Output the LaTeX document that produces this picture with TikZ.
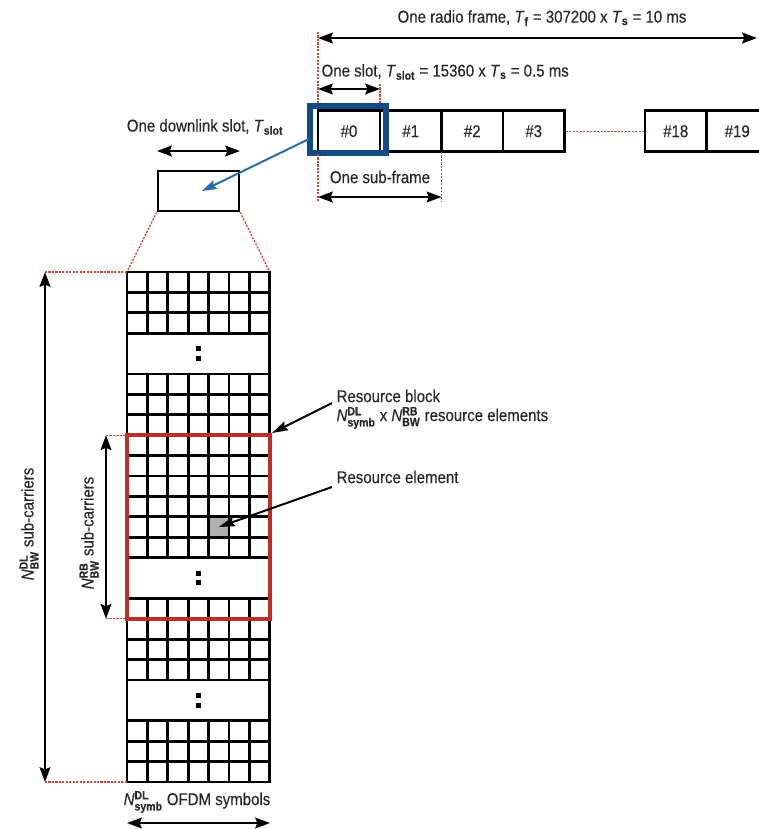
\documentclass[tikz,border=0pt]{standalone}
\usepackage{amsmath}
\usepackage{fontspec}
\setmainfont[FakeStretch=0.88,FakeBold=0.35]{Liberation Sans}
\usetikzlibrary{arrows.meta,fit,calc}
\definecolor{txt}{RGB}{40,40,40}
\definecolor{rbred}{RGB}{190,45,40}
\definecolor{dotred}{RGB}{205,70,60}
\definecolor{bluebox}{RGB}{20,75,135}
\definecolor{bluearr}{RGB}{40,110,170}
\definecolor{recell}{RGB}{175,175,175}
\newcommand{\Tt}[1]{\textit{T}\textsubscript{\textbf{#1}}}
\newcommand{\Nss}[2]{\textit{N}$^{\textbf{#1}}_{\textbf{#2}}$}
\begin{document}
\begin{tikzpicture}[x=0.75pt,y=-0.75pt,
  every node/.style={font=\fontsize{12.8}{14}\selectfont, text=txt, inner sep=1pt},
  dim/.style={line width=1.8pt, {Stealth[length=11pt,width=8pt,inset=1.5pt]}-{Stealth[length=11pt,width=8pt,inset=1.5pt]}},
  ptr/.style={line width=1.5pt, -{Stealth[length=12pt,width=7pt,inset=1.5pt]}},
  guide/.style={dotred, line width=1pt, dash pattern=on 1.6pt off 1pt},
  slotbox/.style={draw, line width=1.9pt, minimum width=46.3pt, minimum height=30.75pt, inner sep=0pt},
  gl/.style={line width=2pt},
]
\useasboundingbox (0,0) rectangle (758,829);
\def\gx{127}\def\cw{20.4}\def\gy{272}\def\rh{20.4}

% ---------- top radio frame ----------
\node[slotbox] (s0) at (349,131.2) {\#0};
\node[slotbox] (s1) at (410.75,131.2) {\#1};
\node[slotbox] (s2) at (472.25,131.2) {\#2};
\node[slotbox] (s3) at (533.75,131.2) {\#3};
\node[slotbox] (s18) at (675.75,131.2) {\#18};
\node[slotbox] (s19) at (737.25,131.2) {\#19};
\draw[guide] (s3.east) -- (s18.west);
\node[draw=bluebox, line width=4.5pt, minimum width=57pt, minimum height=35.25pt, inner sep=0pt] (blue) at (348,129.5) {};

\coordinate (fL) at (318,38);
\coordinate (fR) at (757,38);
\coordinate (fLt) at (318,32);
\coordinate (fLb) at (318,104);
\draw[guide] (fLt) -- (fLb);
\draw[dim, line width=2.2pt] (fL) -- (fR);
\node (flbl) at (542,18) {One radio frame, \Tt{f} = 307200 x \Tt{s} = 10 ms};

\coordinate (sL) at (318,89);
\coordinate (sR) at (380,89);
\coordinate (sRt) at (380,84);
\coordinate (sRb) at (380,104);
\draw[guide] (sRt) -- (sRb);
\draw[dim] (sL) -- (sR);
\node[anchor=west] (slbl) at (320,72) {One slot, \Tt{slot} = 15360 x \Tt{s} = 0.5 ms};

\coordinate (sfL) at (318,197);
\coordinate (sfR) at (441.5,197);
\coordinate (sfLt) at (318,154);
\coordinate (sfRt) at (441.5,152);
\coordinate (sfLb) at (318,202);
\coordinate (sfRb) at (441.5,202);
\draw[guide] (sfLt) -- (sfLb);
\draw[guide] (sfRt) -- (sfRb);
\draw[dim] (sfL) -- (sfR);
\node (sflbl) at (380,177) {One sub-frame};

% ---------- downlink slot ----------
\node[draw, line width=1.9pt, minimum width=60.75pt, minimum height=30pt, inner sep=0pt] (dl) at (198.5,191) {};
\node (dllbl) at (205,127) {One downlink slot, \Tt{slot}};
\coordinate (dlaL) at (157,151);
\coordinate (dlaR) at (240,151);
\draw[dim] (dlaL) -- (dlaR);
\coordinate (bs) at (309,139);
\coordinate (bt) at (202,191);
\draw[bluearr, line width=1.5pt, -{Stealth[length=11pt,width=7pt,inset=1.5pt]}] (bs) -- (bt);

% ---------- grid ----------
\coordinate (gtl) at (\gx,\gy);
\coordinate (gtr) at (\gx+7*\cw,\gy);
\coordinate (gbl) at (\gx,\gy+25*\rh);
\coordinate (gbr) at (\gx+7*\cw,\gy+25*\rh);
\draw[guide] (dl.south west) -- (gtl);
\draw[guide] (dl.south east) -- (gtr);

\node[fill=recell, minimum size=15.3pt, inner sep=0pt] (re) at (\gx+4.5*\cw,\gy+12.5*\rh) {};
\foreach \a/\b in {0/3,5/14,16/20,22/25} {
  \foreach \c in {1,...,6}
    \draw[gl] (\gx+\c*\cw,\gy+\a*\rh) -- (\gx+\c*\cw,\gy+\b*\rh);
  \foreach \r in {\a,...,\b}
    \draw[gl] (\gx,\gy+\r*\rh) -- (\gx+7*\cw,\gy+\r*\rh);
}
\draw[gl] (gtl) rectangle (gbr);
\foreach \g in {4,15,21} {
  \fill (\gx+3.5*\cw-2.4,\gy+\g*\rh-7.2) rectangle +(4.8,4.8);
  \fill (\gx+3.5*\cw-2.4,\gy+\g*\rh+2.4) rectangle +(4.8,4.8);
}
\coordinate (rbtl) at (\gx,\gy+8*\rh);
\coordinate (rbbr) at (\gx+7*\cw,\gy+17*\rh);
\node[draw=rbred, line width=3.2pt, fit=(rbtl)(rbbr), inner sep=0pt] (rb) {};

% ---------- left dimensions ----------
\coordinate (ot) at (45,\gy);
\coordinate (ob) at (45,\gy+25*\rh);
\draw[guide] (ot) -- (gtl);
\draw[guide] (ob) -- (gbl);
\draw[dim] (ot) -- (ob);
\node[rotate=90] (olbl) at (29,524) {\Nss{DL}{BW} sub-carriers};

\coordinate (it) at (106,\gy+8*\rh);
\coordinate (ib) at (106,\gy+17*\rh);
\draw[guide] (it) -- (rbtl);
\draw[guide] (ib) -- (\gx,\gy+17*\rh);
\draw[dim] (it) -- (ib);
\node[rotate=90] (ilbl) at (89,533) {\Nss{RB}{BW} sub-carriers};

% ---------- bottom ----------
\node (blbl) at (197,802) {\Nss{DL}{symb} OFDM symbols};
\coordinate (baL) at (127,823);
\coordinate (baR) at (270,823);
\draw[dim] (baL) -- (baR);

% ---------- annotations ----------
\node[anchor=west] (rbl1) at (335,396) {Resource block};
\node[anchor=west] (rbl2) at (335,418) {\Nss{DL}{symb} x \Nss{RB}{BW} resource elements};
\coordinate (rbs) at (332,403);
\draw[ptr] (rbs) -- (rb.north east);
\node[anchor=west] (rel) at (335,477) {Resource element};
\coordinate (res) at (332,487);
\draw[ptr] (res) -- (re.center);
\end{tikzpicture}
\end{document}
